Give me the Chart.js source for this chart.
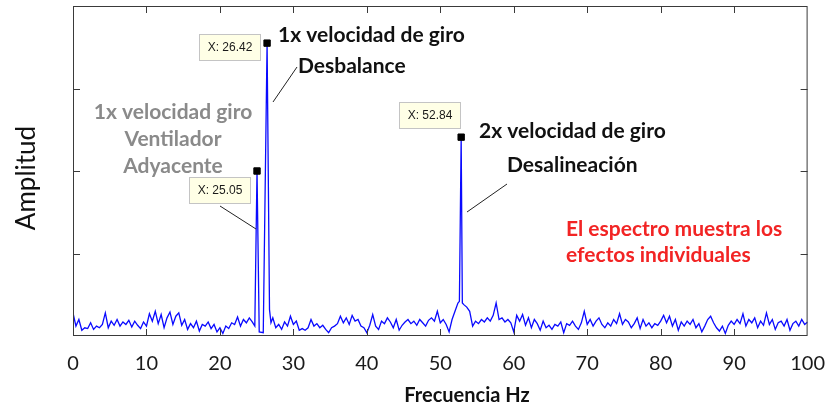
<!DOCTYPE html>
<html>
<head>
<meta charset="utf-8">
<script src="https://cdn.jsdelivr.net/npm/chart.js@4"></script>
<style>
  body { margin: 0; background: #fff; }
  #wrap { width: 833px; height: 411px; position: relative; }
</style>
</head>
<body>
<div id="wrap"><canvas id="espectro"></canvas></div>
<script>
// Eje X: 0 a 100 Hz, ruido leido cada 0.4 Hz (null = tramo cubierto por un pico)
const pasoHz = 0.4;
const ruido = [
  0.28,0.12,0.2,0.07,0.1, 0.09,0.16,0.08,0.12,0.1, 0.14,0.28,0.1,0.18,0.13, 0.2,0.12,0.17,0.14,0.19, 0.11,0.18,0.13,0.09,0.17,
  0.12,0.27,0.18,0.3,0.15, 0.26,0.1,0.22,0.29,0.14, 0.24,0.28,0.13,0.2,0.08, 0.15,0.1,0.18,0.06,0.14, 0.12,0.17,0.09,0.14,0.05,
  0.1,0.03,0.12,0.09,0.16, 0.14,0.23,0.12,0.2,0.16, 0.22,0.17,null,null,null, null,null,null,0.22,0.1, 0.14,0.08,0.17,0.12,0.24,
  0.14,0.18,0.07,0.09,0.07, 0.1,0.2,0.12,0.15,0.1, 0.13,0.08,0.04,0.1,0.12, 0.15,0.24,0.16,0.22,0.14, 0.25,0.18,0.2,0.12,0.1,
  0.04,0.13,0.26,0.12,0.08, 0.18,0.15,0.22,0.17,0.1, 0.2,0.07,0.13,0.17,0.2, 0.15,0.18,0.13,0.2,0.16, 0.12,0.19,0.22,0.18,0.3,
  0.16,0.2,0.14,0.05,0.2, 0.3,0.4,null,0.38,0.35, 0.3,0.12,0.18,0.15,0.2, 0.17,0.22,0.18,0.25,0.4, 0.2,0.22,0.17,0.2,0.16,
  0.05,0.25,0.18,0.26,0.13, 0.22,0.1,0.2,0.15,0.07, 0.18,0.1,0.13,0.08,0.14, 0.12,0.17,0.04,0.15,0.13, 0.18,0.12,0.08,0.16,0.3,
  0.14,0.2,0.12,0.18,0.22, 0.14,0.1,0.16,0.12,0.2, 0.15,0.27,0.14,0.2,0.17, 0.1,0.15,0.22,0.09,0.2, 0.12,0.16,0.1,0.15,0.13,
  0.18,0.25,0.16,0.24,0.12, 0.2,0.07,0.17,0.12,0.18, 0.14,0.2,0.1,0.15,0.05, 0.12,0.2,0.24,0.16,0.1, 0.06,0.12,0.03,0.13,0.18,
  0.14,0.2,0.15,0.27,0.12, 0.2,0.16,0.22,0.1,0.18, 0.13,0.28,0.14,0.2,0.08, 0.16,0.18,0.12,0.2,0.07, 0.15,0.18,0.12,0.2,0.14,
  0.17
];

// Picos (frecuencia / amplitud)
const picoHz  = [24.75, 25.05, 25.35, 25.9, 26.42, 26.75, 26.95, 52.6, 52.84, 53.0];
const picoAmp = [0.12,  2.0,   0.05,  0.04, 3.55,  0.32,  0.16,  0.42, 2.41,  0.4];

// Marcadores con su etiqueta "X: ..."
const marcaHz  = [26.42, 25.05, 52.84];
const marcaAmp = [3.55,  2.0,   2.41];

const ticksX = [0, 10, 20, 30, 40, 50, 60, 70, 80, 90, 100];
const ticksY = [1, 2, 3];

// Armo la serie completa ordenada por frecuencia
let puntos = [];
ruido.forEach((v, i) => {
  if (v !== null) puntos.push({ x: +(i * pasoHz).toFixed(1), y: v });
});
picoHz.forEach((f, i) => puntos.push({ x: f, y: picoAmp[i] }));
puntos.sort((a, b) => a.x - b.x);

const marcas = marcaHz.map((f, i) => ({ x: f, y: marcaAmp[i] }));

// Marco con ticks hacia adentro
const marco = {
  id: 'marco',
  afterDatasetsDraw(chart) {
    const { ctx, chartArea: a, scales: { x, y } } = chart;
    ctx.save();
    ctx.strokeStyle = '#3a3a3a';
    ctx.lineWidth = 1;
    ctx.strokeRect(a.left + 0.5, a.top + 0.5, a.right - a.left - 1, a.bottom - a.top - 1);
    ctx.beginPath();
    ticksX.slice(1, -1).forEach(v => {
      const px = Math.round(x.getPixelForValue(v)) + 0.5;
      ctx.moveTo(px, a.bottom); ctx.lineTo(px, a.bottom - 7);
      ctx.moveTo(px, a.top); ctx.lineTo(px, a.top + 7);
    });
    ticksY.forEach(v => {
      const py = Math.round(y.getPixelForValue(v)) + 0.5;
      ctx.moveTo(a.left, py); ctx.lineTo(a.left + 7, py);
      ctx.moveTo(a.right, py); ctx.lineTo(a.right - 7, py);
    });
    ctx.stroke();
    ctx.restore();
  }
};

// Textos, cajas "X:" y lineas guia
const anotaciones = {
  id: 'anotaciones',
  afterDraw(chart) {
    const { ctx, scales: { x, y } } = chart;
    ctx.save();

    // cajas de dato
    const cajas = [[-68, -9], [-68, 6], [-62, -35]];
    ctx.font = '12px "Liberation Sans", Arial, sans-serif';
    ctx.textBaseline = 'middle';
    ctx.textAlign = 'center';
    marcas.forEach((m, i) => {
      const px = x.getPixelForValue(m.x), py = y.getPixelForValue(m.y);
      const bx = Math.round(px + cajas[i][0]) + 0.5, by = Math.round(py + cajas[i][1]) + 0.5;
      ctx.fillStyle = '#ffffe6';
      ctx.strokeStyle = '#c4c4c4';
      ctx.fillRect(bx, by, 61, 26);
      ctx.strokeRect(bx, by, 61, 26);
      ctx.fillStyle = '#1a1a1a';
      ctx.fillText('X: ' + m.x.toFixed(2), bx + 30.5, by + 13);
    });

    // lineas guia
    ctx.strokeStyle = '#222';
    ctx.lineWidth = 1;
    ctx.beginPath();
    ctx.moveTo(297, 67); ctx.lineTo(273, 102);
    ctx.moveTo(220, 206); ctx.lineTo(256, 229);
    ctx.moveTo(507, 184); ctx.lineTo(467, 212);
    ctx.stroke();

    const texto = (t, tx, ty, font, color, align) => {
      ctx.font = font;
      ctx.fillStyle = color;
      ctx.textAlign = align || 'left';
      ctx.fillText(t, tx, ty);
    };
    const negrita = 'bold 21px Lato, "Open Sans", sans-serif';
    texto('1x velocidad de giro', 278, 35, negrita, '#111');
    texto('Desbalance', 298, 66, negrita, '#111');
    texto('1x velocidad giro', 173, 112, negrita, '#8a8a8a', 'center');
    texto('Ventilador', 173, 139, negrita, '#8a8a8a', 'center');
    texto('Adyacente', 173, 166, negrita, '#8a8a8a', 'center');
    texto('2x velocidad de giro', 479, 131, negrita, '#111');
    texto('Desalineación', 507, 165, negrita, '#111');
    texto('El espectro muestra los', 566, 229, negrita, '#f22424');
    texto('efectos individuales', 566, 255, negrita, '#f22424');
    texto('Frecuencia Hz', 467, 396, 'bold 20px Lato, "Open Sans", sans-serif', '#111', 'center');

    ctx.translate(27, 178);
    ctx.rotate(-Math.PI / 2);
    texto('Amplitud', 0, 0, '26px Lato, "Open Sans", sans-serif', '#111', 'center');
    ctx.restore();
  }
};

new Chart(document.getElementById('espectro'), {
  type: 'line',
  data: {
    datasets: [
      {
        label: 'Espectro',
        data: puntos,
        borderColor: '#0a0aff',
        borderWidth: 1.3,
        pointRadius: 0,
        tension: 0,
        order: 2
      },
      {
        label: 'Marcas',
        data: marcas,
        showLine: false,
        pointStyle: 'rect',
        pointRadius: 4.5,
        backgroundColor: '#000',
        borderColor: '#000',
        order: 1
      }
    ]
  },
  options: {
    responsive: true,
    maintainAspectRatio: false,
    animation: false,
    layout: { padding: { left: 73, right: 25, top: 6, bottom: 0 } },
    plugins: { legend: { display: false }, tooltip: { enabled: false } },
    scales: {
      x: {
        type: 'linear',
        min: 0, max: 100,
        grid: { display: false },
        border: { display: false },
        ticks: {
          stepSize: 10,
          padding: 8,
          color: '#1a1a1a',
          font: { family: 'Lato', size: 20 }
        },
        afterFit(scale) { scale.height = 75; }
      },
      y: {
        min: 0, max: 4,
        grid: { display: false },
        border: { display: false },
        ticks: { display: false, stepSize: 1 },
        afterFit(scale) { scale.width = 0; }
      }
    }
  },
  plugins: [marco, anotaciones]
});
</script>
</body>
</html>
